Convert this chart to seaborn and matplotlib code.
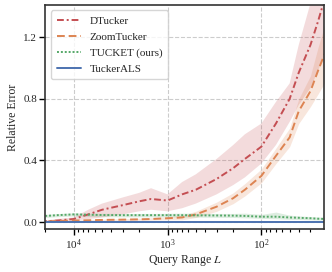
import matplotlib
matplotlib.use("Agg")
import matplotlib.pyplot as plt
import seaborn as sns
import pandas as pd

# query ranges (x axis, log, decreasing to the right)
query_range = [20000, 15000, 10000, 7000, 5000, 3000, 2000, 1500, 1000, 700, 500,
               300, 200, 150, 100, 70, 50, 40, 30, 25, 20]

methods = ["DTucker", "ZoomTucker", "TUCKET (ours)", "TuckerALS"]

dtucker_mean = [0.005, 0.01, 0.02, 0.05, 0.08, 0.11, 0.135, 0.15, 0.14, 0.18, 0.21,
                0.28, 0.35, 0.41, 0.49, 0.64, 0.80, 0.97, 1.15, 1.30, 1.50]
dtucker_lo = [0.0, 0.005, 0.01, 0.02, 0.03, 0.05, 0.07, 0.08, 0.07, 0.09, 0.12,
              0.18, 0.24, 0.29, 0.38, 0.50, 0.65, 0.76, 0.87, 0.98, 1.12]
dtucker_hi = [0.01, 0.02, 0.03, 0.08, 0.12, 0.16, 0.19, 0.22, 0.18, 0.26, 0.31,
              0.41, 0.50, 0.57, 0.64, 0.78, 0.90, 1.15, 1.42, 1.60, 1.80]

zoom_mean = [0.005, 0.007, 0.01, 0.012, 0.014, 0.016, 0.018, 0.02, 0.025, 0.03, 0.05,
             0.10, 0.155, 0.21, 0.30, 0.43, 0.55, 0.72, 0.85, 0.98, 1.13]
zoom_lo = [0.002, 0.004, 0.006, 0.007, 0.009, 0.010, 0.011, 0.012, 0.015, 0.015, 0.03,
           0.07, 0.12, 0.17, 0.255, 0.38, 0.49, 0.64, 0.75, 0.83, 0.93]
zoom_hi = [0.008, 0.010, 0.014, 0.017, 0.019, 0.022, 0.025, 0.028, 0.035, 0.045, 0.07,
           0.13, 0.19, 0.25, 0.345, 0.48, 0.61, 0.80, 0.95, 1.13, 1.33]

tucket_mean = [0.04, 0.045, 0.05, 0.048, 0.046, 0.045, 0.045, 0.045, 0.045, 0.045, 0.044,
               0.043, 0.042, 0.04, 0.035, 0.035, 0.03, 0.028, 0.025, 0.022, 0.02]
tucket_lo = [0.03, 0.035, 0.04, 0.037, 0.035, 0.034, 0.034, 0.034, 0.034, 0.033, 0.032,
             0.031, 0.03, 0.028, 0.024, 0.022, 0.018, 0.017, 0.015, 0.013, 0.012]
tucket_hi = [0.05, 0.055, 0.06, 0.058, 0.057, 0.056, 0.056, 0.056, 0.057, 0.058, 0.057,
             0.056, 0.056, 0.058, 0.05, 0.065, 0.045, 0.04, 0.036, 0.033, 0.03]

als_mean = [0.002] * len(query_range)

means = [dtucker_mean, zoom_mean, tucket_mean, als_mean]
bands = [(dtucker_lo, dtucker_hi), (zoom_lo, zoom_hi), (tucket_lo, tucket_hi), None]

sns.set_theme(style="ticks")
plt.rcParams["font.family"] = ["Liberation Serif", "DejaVu Serif"]
plt.rcParams["mathtext.fontset"] = "stix"

palette = {"DTucker": "#C44E52", "ZoomTucker": "#DD8452",
           "TUCKET (ours)": "#55A868", "TuckerALS": "#4C72B0"}
dashes = {"DTucker": (3.5, 1.5, 1, 1.5), "ZoomTucker": (4, 2),
          "TUCKET (ours)": (1, 1), "TuckerALS": ""}

rows = []
for m, vals in zip(methods, means):
    for L, v in zip(query_range, vals):
        rows.append({"L": L, "err": v, "method": m})
df = pd.DataFrame(rows)

fig = plt.figure(figsize=(3.32, 2.72), dpi=100)
ax = fig.add_axes([0.137, 0.158, 0.839, 0.824])

for m, b in zip(methods, bands):
    if b is not None:
        ax.fill_between(query_range, b[0], b[1], color=palette[m], alpha=0.2, lw=0)

sns.lineplot(data=df, x="L", y="err", hue="method", style="method",
             palette=palette, dashes=dashes, hue_order=methods,
             style_order=methods, lw=1.4, ax=ax)

ax.set_xscale("log")
ax.set_xlim(20000, 21.5)
ax.set_ylim(-0.045, 1.41)
ax.set_yticks([0.0, 0.4, 0.8, 1.2])
ax.set_yticklabels(["0.0", "0.4", "0.8", "1.2"])
ax.grid(True, which="major", ls="--", color="#cccccc", lw=0.8)
ax.set_xlabel("Query Range $L$", fontsize=8.5, labelpad=1)
ax.set_ylabel("Relative Error", fontsize=8.5, labelpad=3)
ax.tick_params(axis="both", which="major", labelsize=8, length=4, width=1,
               color="black", pad=2)
ax.tick_params(axis="x", which="minor", length=2.5, width=0.8, color="black")
for s in ax.spines.values():
    s.set_visible(True)
    s.set_color("#333333")
    s.set_linewidth(1.2)

leg = ax.legend(loc="upper left", fontsize=8, frameon=True, handlelength=2.2,
                borderpad=0.5, labelspacing=0.55, fancybox=True)
leg.get_frame().set_edgecolor("#cccccc")

fig.savefig("out.png", dpi=100)
